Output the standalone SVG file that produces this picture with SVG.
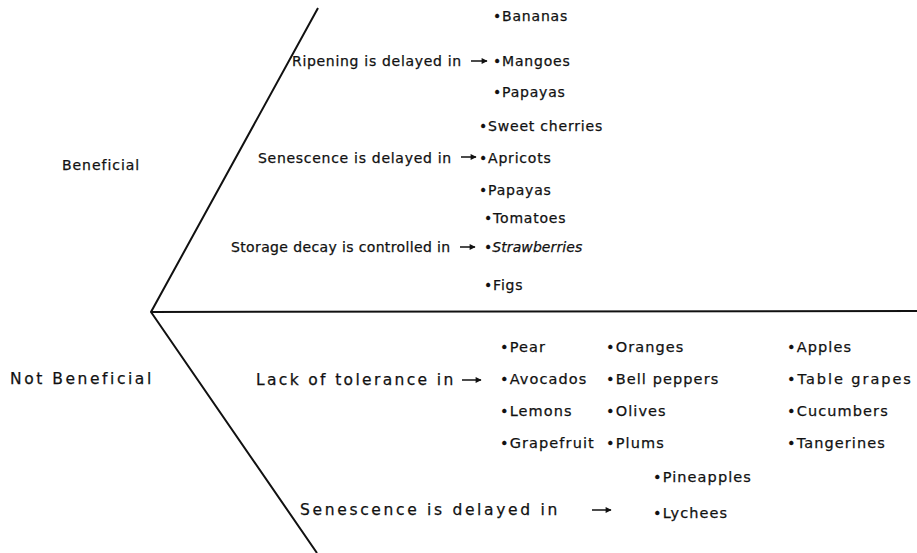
<svg xmlns="http://www.w3.org/2000/svg" width="917" height="553" viewBox="0 0 917 553">
<style>
text{font-family:"DejaVu Sans","Liberation Sans",sans-serif;font-size:14px;fill:#111;stroke:#111;stroke-width:0.25;letter-spacing:0.8px}
.lo{letter-spacing:1.1px;font-size:14.5px}
.big{font-size:15.5px}
.it{font-style:italic}
.ln{stroke:#111;stroke-width:2;fill:none}
.ar{stroke:#111;stroke-width:1.5;fill:none;marker-end:url(#ah)}
</style>
<defs>
<marker id="ah" viewBox="0 0 10 10" refX="9" refY="5" markerWidth="7" markerHeight="6" markerUnits="userSpaceOnUse" orient="auto">
<path d="M0,0 L10,5 L0,10 z" fill="#111"/>
</marker>
</defs>
<rect width="917" height="553" fill="#fff"/>
<g id="connectors">
<path class="ln" d="M318,8 L151,312 L317,553"/>
<path class="ln" d="M151,312 L917,311"/>
<path class="ar" d="M471,61 L487,61"/>
<path class="ar" d="M461,157 L476,157"/>
<path class="ar" d="M460,247 L475,247"/>
<path class="ar" d="M462,380 L481,380"/>
<path class="ar" d="M592,510 L611,510"/>
</g>
<g id="beneficial"><text x="62" y="170" textLength="78">Beneficial</text></g>
<g id="not-beneficial"><text x="10" y="384" class="big" textLength="142">Not Beneficial</text></g>
<g id="ripening">
<text x="292" y="66" textLength="170">Ripening is delayed in</text>
<text x="493" y="21">•Bananas</text>
<text x="493" y="66">•Mangoes</text>
<text x="493" y="97">•Papayas</text>
</g>
<g id="senescence-1">
<text x="258" y="163" textLength="194">Senescence is delayed in</text>
<text x="479" y="131">•Sweet cherries</text>
<text x="479" y="163">•Apricots</text>
<text x="479" y="195">•Papayas</text>
</g>
<g id="storage">
<text x="231" y="252" textLength="220">Storage decay is controlled in</text>
<text x="484" y="223">•Tomatoes</text>
<text x="484" y="252" class="it" textLength="99">•Strawberries</text>
<text x="484" y="290">•Figs</text>
</g>
<g id="tolerance">
<text x="256" y="385" class="big" textLength="198">Lack of tolerance in</text>
<text x="500" y="352" class="lo">•Pear</text>
<text x="500" y="384" class="lo">•Avocados</text>
<text x="500" y="416" class="lo">•Lemons</text>
<text x="500" y="448" class="lo">•Grapefruit</text>
<text x="606" y="352" class="lo">•Oranges</text>
<text x="606" y="384" class="lo">•Bell peppers</text>
<text x="606" y="416" class="lo">•Olives</text>
<text x="606" y="448" class="lo">•Plums</text>
<text x="787" y="352" class="lo">•Apples</text>
<text x="787" y="384" class="lo" textLength="125">•Table grapes</text>
<text x="787" y="416" class="lo">•Cucumbers</text>
<text x="787" y="448" class="lo">•Tangerines</text>
</g>
<g id="senescence-2">
<text x="300" y="515" class="big" textLength="258">Senescence is delayed in</text>
<text x="653" y="482" class="lo">•Pineapples</text>
<text x="653" y="518" class="lo">•Lychees</text>
</g>
</svg>
